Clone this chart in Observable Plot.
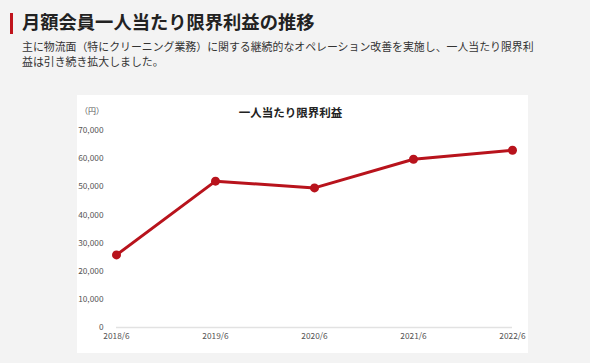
<!DOCTYPE html>
<html><head><meta charset="utf-8">
<script src="https://cdn.jsdelivr.net/npm/d3@7"></script>
<script src="https://cdn.jsdelivr.net/npm/@observablehq/plot@0.6"></script>
<style>
html,body{margin:0;padding:0;background:#f3f3f3;width:590px;height:363px;overflow:hidden;font-family:"Noto Sans CJK JP","Noto Sans",sans-serif;}
#bar{position:absolute;left:10px;top:13px;width:3px;height:21px;background:#c0141c;}
#title{position:absolute;left:22px;top:8px;font-size:18.3px;font-weight:bold;color:#222;line-height:26px;white-space:nowrap;}
#sub{position:absolute;left:22px;top:39px;width:518px;font-size:10.9px;color:#333;line-height:15px;}
#panel{position:absolute;left:77px;top:95px;width:451px;height:258px;background:#fff;}
#ctitle{position:absolute;left:0;width:451px;top:9px;text-align:center;font-size:11.5px;font-weight:bold;color:#222;padding-right:24px;box-sizing:border-box;}
#unit{position:absolute;left:3px;top:10px;font-size:8px;color:#555;}
#chart{position:absolute;left:0;top:0;}
</style></head>
<body>
<div id="bar"></div>
<div id="title">月額会員一人当たり限界利益の推移</div>
<div id="sub">主に物流面（特にクリーニング業務）に関する継続的なオペレーション改善を実施し、一人当たり限界利益は引き続き拡大しました。</div>
<div id="panel"><div id="chart"></div><div id="ctitle">一人当たり限界利益</div><div id="unit">（円）</div></div>
<script>
const periods = ["2018/6","2019/6","2020/6","2021/6","2022/6"];
const profit = [25800, 52000, 49600, 59800, 63000];
const yTicks = [0,10000,20000,30000,40000,50000,60000,70000];

const data = periods.map((p,i)=>({period:p, value:profit[i]}));
const chart = Plot.plot({
  width:451, height:258,
  marginLeft:39, marginRight:16, marginTop:35, marginBottom:26,
  style:{fontFamily:"'Noto Sans CJK JP','Noto Sans',sans-serif", fontSize:"8.3px", color:"#555", background:"transparent"},
  x:{type:"point", domain:periods, padding:0},
  y:{domain:[0,70000]},
  marks:[
    Plot.ruleY([0],{stroke:"#e2e2e2", strokeWidth:1.5}),
    Plot.axisY({ticks:yTicks, tickSize:0, tickPadding:13, tickFormat:d=>d3.format(",")(d), label:null}),
    Plot.axisX({tickSize:0, tickPadding:6, label:null}),
    Plot.line(data,{x:"period", y:"value", stroke:"#b8131c", strokeWidth:3}),
    Plot.dot(data,{x:"period", y:"value", fill:"#b8131c", r:4.5})
  ]
});
document.getElementById("chart").appendChild(chart);
</script>
</body></html>
